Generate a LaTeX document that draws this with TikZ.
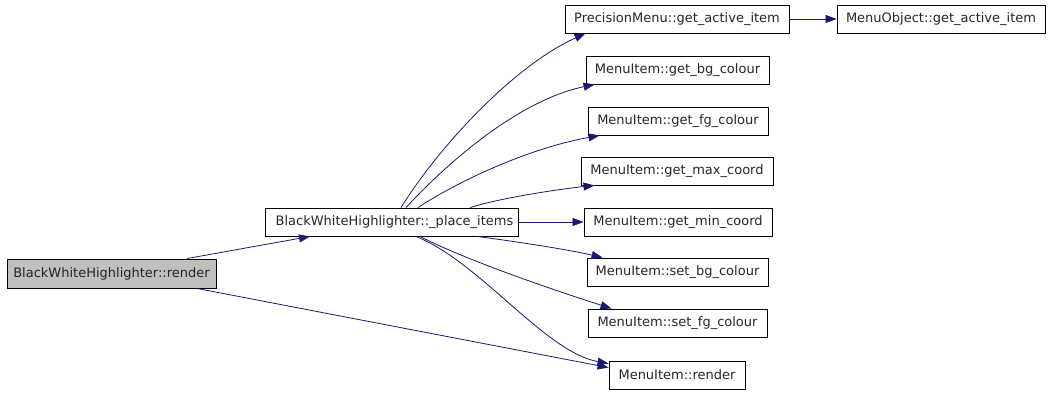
\documentclass[tikz,border=0pt]{standalone}
\usepackage{fontspec}
\setmainfont{DejaVu Sans}
\usetikzlibrary{arrows.meta}
\definecolor{edgeblue}{HTML}{191970}
\definecolor{hilite}{HTML}{BFBFBF}
\tikzset{
  fn/.style={draw=black, line width=0.9pt, inner sep=0pt, minimum height=28pt,
    font=\fontsize{13}{15}\selectfont, text=black!85},
  cur/.style={fn, fill=hilite},
  call/.style={draw=edgeblue, line width=0.8pt, -{Triangle[length=11pt,width=8pt]}},
}
\begin{document}
\begin{tikzpicture}[x=1pt,y=-1pt]
\useasboundingbox (0,0) rectangle (1051,392);
\node[cur, minimum width=209pt, minimum height=29pt] (r) at (111.5,273.5) {BlackWhiteHighlighter::render};
\node[fn, minimum width=253pt] (pi) at (391.5,222) {\hspace*{6pt}BlackWhiteHighlighter::\_place\_items};
\node[fn, minimum width=224pt] (pm) at (677,19) {PrecisionMenu::get\_active\_item};
\node[fn, minimum width=208pt] (mo) at (941,19) {MenuObject::get\_active\_item};
\node[fn, minimum width=183pt] (bg) at (677.5,70) {MenuItem::get\_bg\_colour};
\node[fn, minimum width=180pt] (fg) at (678,121) {MenuItem::get\_fg\_colour};
\node[fn, minimum width=192pt] (mx) at (677,171) {MenuItem::get\_max\_coord};
\node[fn, minimum width=188pt] (mn) at (678,222) {MenuItem::get\_min\_coord};
\node[fn, minimum width=181pt] (sb) at (677.5,272) {MenuItem::set\_bg\_colour};
\node[fn, minimum width=179pt] (sf) at (677.5,323) {MenuItem::set\_fg\_colour};
\node[fn, minimum width=136pt] (mr) at (677,375) {MenuItem::render};

\draw[call] ([xshift=75.5pt]r.north) -- ([xshift=-81.5pt]pi.south);
\draw[call] ([xshift=85.5pt]r.south) -- ([yshift=-7pt]mr.north west);
\draw[call] (pm.east) -- (mo.west);
\draw[call] (pi.east) -- (mn.west);
\draw[call] ([xshift=9.5pt]pi.north) .. controls (440,145) and (515,65) .. ([xshift=21pt]pm.south west);
\draw[call] ([xshift=14.5pt]pi.north) .. controls (450,160) and (520,100) .. ([xshift=9pt]bg.south west);
\draw[call] ([xshift=26.5pt]pi.north) .. controls (460,180) and (530,148) .. ([xshift=12pt]fg.south west);
\draw[call] ([xshift=78.5pt]pi.north) .. controls (500,198) and (560,189) .. ([xshift=14pt]mx.south west);
\draw[call] ([xshift=85.5pt]pi.south) .. controls (520,242) and (570,250) .. ([xshift=16pt]sb.north west);
\draw[call] ([xshift=28.5pt]pi.south) .. controls (470,262) and (560,292) .. ([xshift=24pt]sf.north west);
\draw[call] ([xshift=24.5pt]pi.south) .. controls (480,262) and (545,352) .. ([yshift=-3pt]mr.north west);
\end{tikzpicture}
\end{document}
